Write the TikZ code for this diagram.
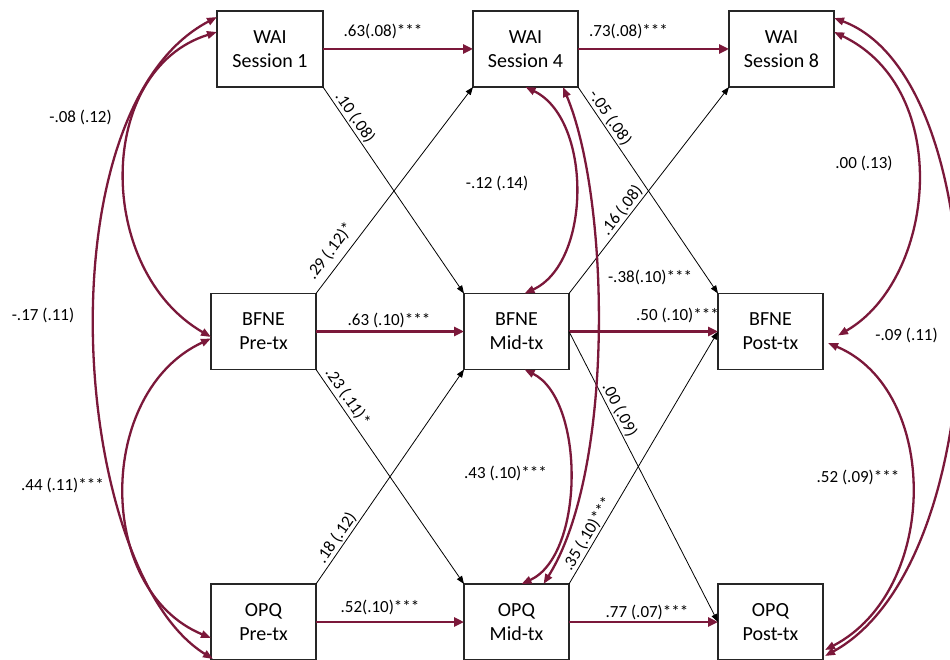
\documentclass[tikz,border=0pt]{standalone}
\usepackage{fontspec}
\setmainfont{Carlito}
\usetikzlibrary{arrows.meta,calc}
\definecolor{maroon}{RGB}{123,24,58}
\begin{document}
\begin{tikzpicture}[x=1pt,y=-1pt,
  box/.style={draw=black!85, line width=1.1pt, minimum width=105pt, minimum height=76pt,
    inner sep=0pt, outer sep=0pt, align=center, font=\fontsize{20}{24}\selectfont},
  lbl/.style={font=\fontsize{17}{20}\selectfont, inner sep=1.5pt},
  thickarrow/.style={draw=maroon, line width=2.8pt, -{Triangle[length=10pt,width=9pt]}},
  covar/.style={draw=maroon, line width=2.3pt,
    {Triangle[length=10pt,width=7.5pt]}-{Triangle[length=10pt,width=7.5pt]}},
  thinarrow/.style={draw=black, line width=0.8pt, -{Triangle[length=8pt,width=6pt]}}]
\useasboundingbox (0,0) rectangle (950,660);
% boxes
\node[box, minimum width=106pt] (wai1) at (270,49) {WAI\\Session 1};
\node[box] (wai4) at (525.5,49) {WAI\\Session 4};
\node[box] (wai8) at (781.5,49) {WAI\\Session 8};
\node[box] (bfnepre) at (263.5,331.5) {BFNE\\Pre-tx};
\node[box] (bfnemid) at (516.5,331.5) {BFNE\\Mid-tx};
\node[box] (bfnepost) at (770.5,331.5) {BFNE\\Post-tx};
\node[box] (opqpre) at (263.5,622) {OPQ\\Pre-tx};
\node[box] (opqmid) at (516.5,622) {OPQ\\Mid-tx};
\node[box] (opqpost) at (770.5,622) {OPQ\\Post-tx};
% autoregressive paths
\draw[thickarrow] (wai1.east) -- (wai4.west);
\draw[thickarrow] (wai4.east) -- (wai8.west);
\draw[thickarrow] (bfnepre.east) -- (bfnemid.west);
\draw[thickarrow] (bfnemid.east) -- (bfnepost.west);
\draw[thickarrow] (opqpre.east) -- (opqmid.west);
\draw[thickarrow] (opqmid.east) -- (opqpost.west);
% cross-lagged paths
\draw[thinarrow] (wai1.south east) -- node[lbl, sloped, above, pos=0.173] (la) {.10 (.08)} (bfnemid.north west);
\draw[thinarrow] (bfnepre.north east) -- node[lbl, sloped, above=5pt, pos=0.163] (lb) {.29 (.12)*} (wai4.south west);
\draw[thinarrow] (wai4.south east) -- node[lbl, sloped, above, pos=0.174] (lc) {-.05 (.08)} (bfnepost.north west);
\draw[thinarrow] (bfnemid.north east) -- node[lbl, sloped, above, pos=0.375] (ld) {.16 (.08)} (wai8.south west);
\draw[thinarrow] (bfnepre.south east) -- node[lbl, sloped, above=1pt, pos=0.156] (le) {.23 (.11)*} (opqmid.north west);
\draw[thinarrow] (opqpre.north east) -- node[lbl, sloped, above, pos=0.19] (lf) {.18 (.12)} (bfnemid.south west);
\draw[thinarrow] (bfnemid.east) -- node[lbl, sloped, above, pos=0.285] (lg) {.00 (.09)} (opqpost.west);
\draw[thinarrow] (opqmid.north east) -- node[lbl, sloped, above, pos=0.18] (lh) {.35 (.10)***} (bfnepost.west);
% covariances
\draw[covar] ($(wai1.west)+(0,-17)$) .. controls +(-122,38) and +(-116,-67) .. ($(bfnepre.west)+(0,5.5)$);
\draw[covar] ($(bfnepre.west)+(0,7)$) .. controls +(-115,53) and +(-116,-48) .. ($(opqpre.west)+(0,16)$);
\draw[covar] ($(wai1.north west)+(0,6)$) .. controls +(-177,93) and +(-143,-89) .. ($(opqpre.south west)+(2,-1)$);
\draw[covar] (wai4.south) .. controls +(66.5,32) and +(67.5,-31) .. ($(bfnemid.north)+(8,0)$);
\draw[covar] ($(bfnemid.south)+(8,0)$) .. controls +(60.5,30) and +(63.5,-29) .. ($(opqmid.north)+(5,0)$);
\draw[covar] ($(wai4.south east)+(-15,0)$) .. controls +(47,112) and +(71.5,-114) .. ($(opqmid.north)+(27,0)$);
\draw[covar] ($(wai8.east)+(0,-17)$) .. controls +(121,58) and +(97,-55.5) .. ($(bfnepost.east)+(15,4)$);
\draw[covar] ($(wai8.north east)+(0,7)$) .. controls +(166,62) and +(175,-96) .. ($(opqpost.south east)+(2,-4)$);
\draw[covar] ($(bfnepost.east)+(5,11.5)$) .. controls +(112,47) and +(115,-60) .. ($(opqpost.east)+(2,28)$);
% labels
\node[lbl] (t1) at (383,31) {.63(.08)***};
\node[lbl] (t2) at (628.5,31) {.73(.08)***};
\node[lbl] (t3) at (389,320) {.63 (.10)***};
\node[lbl] (t4) at (677.5,315) {.50 (.10)***};
\node[lbl] (t5) at (650,277) {-.38(.10)***};
\node[lbl] (t6) at (380,607) {.52(.10)***};
\node[lbl] (t7) at (647,612) {.77 (.07)***};
\node[lbl] (t8) at (80.5,117) {-.08 (.12)};
\node[lbl] (t9) at (43,315) {-.17 (.11)};
\node[lbl] (t10) at (62.5,485) {.44 (.11)***};
\node[lbl] (t11) at (497,183) {-.12 (.14)};
\node[lbl] (t12) at (505.5,473) {.43 (.10)***};
\node[lbl] (t13) at (864,163) {.00 (.13)};
\node[lbl] (t14) at (906.5,335) {-.09 (.11)};
\node[lbl] (t15) at (858,477) {.52 (.09)***};
\end{tikzpicture}
\end{document}
